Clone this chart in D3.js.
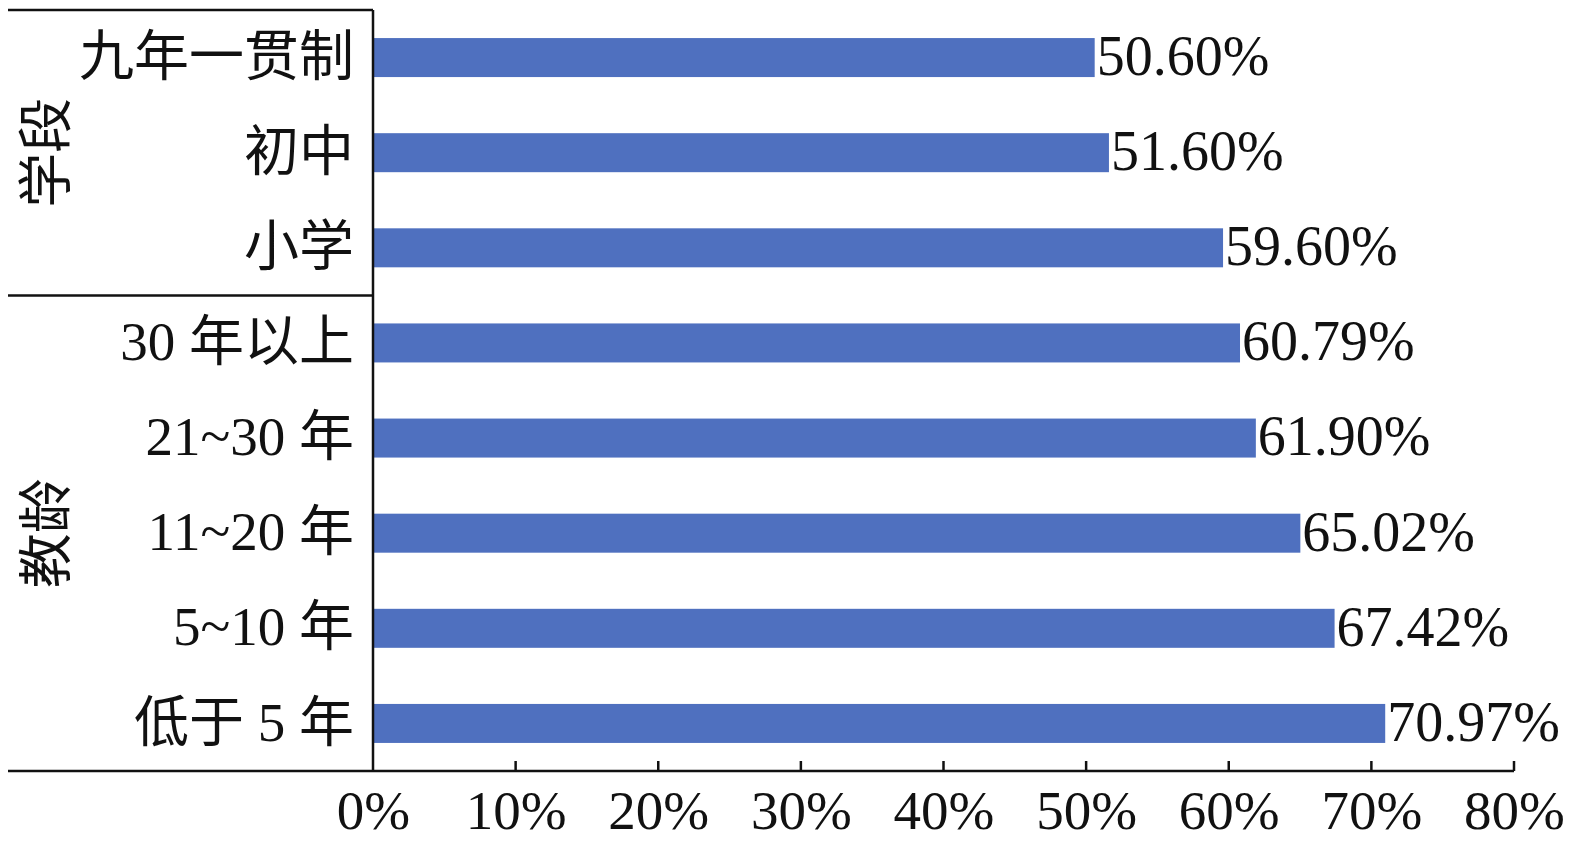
<!DOCTYPE html>
<html>
<head>
<meta charset="utf-8">
<script src="https://cdn.jsdelivr.net/npm/d3@7"></script>
<style>
  html, body { margin: 0; padding: 0; background: #fff; }
  svg text { font-family: "Liberation Serif", "Noto Sans CJK SC", serif; fill: #111; }
</style>
</head>
<body>
<svg id="chart" width="1575" height="856"></svg>
<script>
const categories = ["九年一贯制", "初中", "小学", "30 年以上", "21~30 年", "11~20 年", "5~10 年", "低于 5 年"];
const values = [50.60, 51.60, 59.60, 60.79, 61.90, 65.02, 67.42, 70.97];
const valueLabels = ["50.60%", "51.60%", "59.60%", "60.79%", "61.90%", "65.02%", "67.42%", "70.97%"];
const groups = ["学段", "教龄"];
const groupSizes = [3, 5];
const xTicks = [0, 10, 20, 30, 40, 50, 60, 70, 80];

(function () {
const svg = d3.select("#chart");
const mLeft = 373, mRight = 1514, mTop = 10, mBottom = 771, outerLeft = 8;
const fs = 55, fsVal = 56;

const x = d3.scaleLinear().domain([0, 80]).range([mLeft, mRight]);
const y = d3.scaleBand().domain(categories).range([mTop, mBottom]).paddingInner(0.59).paddingOuter(0.295);

// bars
svg.append("g").selectAll("rect").data(values).join("rect")
  .attr("x", x(0))
  .attr("y", (d, i) => y(categories[i]))
  .attr("width", d => x(d) - x(0))
  .attr("height", y.bandwidth())
  .attr("fill", "#4F70BF");

// value labels
svg.append("g").selectAll("text").data(values).join("text")
  .attr("x", d => x(d) + 2)
  .attr("y", (d, i) => y(categories[i]) + y.bandwidth() / 2)
  .attr("dy", "0.31em")
  .attr("font-size", fsVal)
  .text((d, i) => valueLabels[i]);

// x axis
const xAxis = d3.axisBottom(x).tickValues(xTicks).tickSize(0).tickFormat(d => d + "%");
const gx = svg.append("g").attr("transform", `translate(0,${mBottom})`).call(xAxis);
gx.select(".domain").remove();
gx.selectAll("text").attr("font-size", fs).attr("dy", 0).attr("y", 58)
  .style("font-family", '"Liberation Serif", serif').attr("fill", "#111");
// upward ticks
svg.append("g").selectAll("line").data(xTicks.slice(1)).join("line")
  .attr("x1", d => x(d)).attr("x2", d => x(d))
  .attr("y1", mBottom).attr("y2", mBottom - 10)
  .attr("stroke", "#111").attr("stroke-width", 2.5);

// category labels
const yAxis = d3.axisLeft(y).tickSize(0).tickPadding(mLeft - 354);
const gy = svg.append("g").attr("transform", `translate(${mLeft},0)`).call(yAxis);
gy.select(".domain").remove();
gy.selectAll("text").attr("font-size", fs).attr("dy", "0.31em")
  .style("font-family", '"Liberation Serif", "Noto Sans CJK SC", serif').attr("fill", "#111");

// frame lines
const lineStyle = sel => sel.attr("stroke", "#111").attr("stroke-width", 2.5).attr("fill", "none");
svg.append("line").attr("x1", outerLeft).attr("x2", mRight).attr("y1", mBottom).attr("y2", mBottom).call(lineStyle);
svg.append("line").attr("x1", mLeft).attr("x2", mLeft).attr("y1", mTop).attr("y2", mBottom).call(lineStyle);
svg.append("line").attr("x1", outerLeft).attr("x2", mLeft).attr("y1", mTop).attr("y2", mTop).call(lineStyle);

// group separators and labels
let start = 0;
groups.forEach((g, gi) => {
  const first = categories[start];
  const last = categories[start + groupSizes[gi] - 1];
  const y0 = y(first) - y.step() * y.paddingInner() / 2;
  const y1 = y(last) + y.bandwidth() + y.step() * y.paddingInner() / 2;
  if (gi > 0) {
    svg.append("line").attr("x1", outerLeft).attr("x2", mLeft).attr("y1", y0).attr("y2", y0).call(lineStyle);
  }
  const cy = (Math.max(y0, mTop) + Math.min(y1, mBottom)) / 2;
  svg.append("text")
    .attr("transform", `translate(45,${cy}) rotate(-90)`)
    .attr("text-anchor", "middle")
    .attr("dy", "0.36em")
    .attr("font-size", fs)
    .text(g);
  start += groupSizes[gi];
});
})();
</script>
</body>
</html>
